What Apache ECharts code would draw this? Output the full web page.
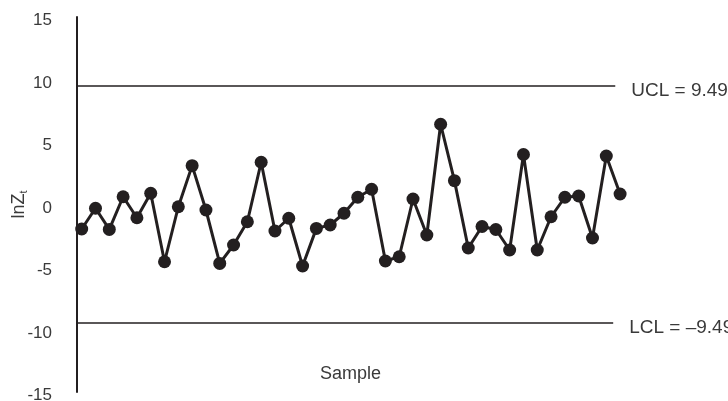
<!DOCTYPE html>
<html lang="en">
<head>
    <meta charset="UTF-8">
    <title>lnZt control chart</title>
    <script src="https://cdn.jsdelivr.net/npm/echarts@6/dist/echarts.min.js"></script>
    <style>
        html, body { margin: 0; padding: 0; background: #fff; }
    </style>
</head>
<body>
    <div id="main" style="width: 728px;height:401px;"></div>
</body>
</html>
<script type="text/javascript">
    // sample numbers 1..40
    var samples = [];
    for (var i = 1; i <= 40; i++) samples.push(i);

    // lnZt values
    var lnZ = [-1.96, -0.30, -1.99, 0.62, -1.06, 0.90, -4.58, -0.18, 3.11, -0.44,
               -4.71, -3.24, -1.38, 3.38, -2.12, -1.10, -4.92, -1.91, -1.64, -0.70,
               0.58, 1.22, -4.52, -4.18, 0.44, -2.44, 6.42, 1.91, -3.48, -1.76,
               -2.00, -3.64, 4.00, -3.64, -0.98, 0.58, 0.68, -2.68, 3.88, 0.84];

    var UCL = 9.49;
    var LCL = -9.49;
    var yTicks = [-15, -10, -5, 0, 5, 10, 15];

    var points = samples.map(function (s, k) { return [s, lnZ[k]]; });

    var textColor = '#3a3a3a';
    var ink = '#231f20';
    var font = 'Liberation Sans, Arial, sans-serif';

    var myChart = echarts.init(document.getElementById('main'));

    var option = {
        backgroundColor: '#fff',
        animation: false,
        title: {
            text: 'Sample',
            left: 315,
            top: 360,
            textStyle: { fontFamily: font, fontSize: 18, fontWeight: 'normal', color: textColor }
        },
        grid: { left: 77, right: 101, top: 17, bottom: 9, outerBoundsMode: 'none', containLabel: false },
        xAxis: {
            type: 'value',
            min: 0.66,
            max: 40.5,
            axisLine: { show: false },
            axisTick: { show: false },
            axisLabel: { show: false },
            splitLine: { show: false }
        },
        yAxis: {
            type: 'value',
            min: yTicks[0],
            max: yTicks[yTicks.length - 1],
            interval: 5,
            name: 'lnZ{sub|t}',
            nameLocation: 'middle',
            nameRotate: 90,
            nameGap: 48,
            nameMoveOverlap: false,
            nameTextStyle: {
                fontFamily: font,
                fontSize: 18,
                color: textColor,
                rich: {
                    sub: { fontFamily: font, fontSize: 11, color: textColor, verticalAlign: 'bottom', padding: [9, 0, 0, 0] }
                }
            },
            axisLine: { show: true, onZero: false, lineStyle: { color: ink, width: 2 } },
            axisTick: { show: false },
            splitLine: { show: false },
            axisLabel: {
                color: textColor,
                margin: 25,
                formatter: function (v) { return '{t|' + v + '}'; },
                rich: {
                    t: { fontFamily: font, fontSize: 17, color: textColor, padding: [7, 0, 0, 0] }
                }
            }
        },
        series: [{
            type: 'line',
            data: points,
            symbol: 'circle',
            symbolSize: 13,
            lineStyle: { color: ink, width: 3 },
            itemStyle: { color: ink },
            clip: false,
            markLine: {
                silent: true,
                symbol: 'none',
                lineStyle: { color: ink, width: 1.5, type: 'solid' },
                label: {
                    position: 'end',
                    distance: 16,
                    rich: {
                        c: { fontFamily: font, fontSize: 19, color: textColor, padding: [9, 0, 0, 0] }
                    }
                },
                data: [
                    [{ coord: [0.66, UCL] }, { coord: [39.65, UCL], label: { formatter: '{c|UCL = 9.49}' } }],
                    [{ coord: [0.66, LCL] }, { coord: [39.5, LCL], label: { formatter: '{c|LCL = \u20139.49}' } }]
                ]
            }
        }]
    };

    myChart.setOption(option);
</script>
